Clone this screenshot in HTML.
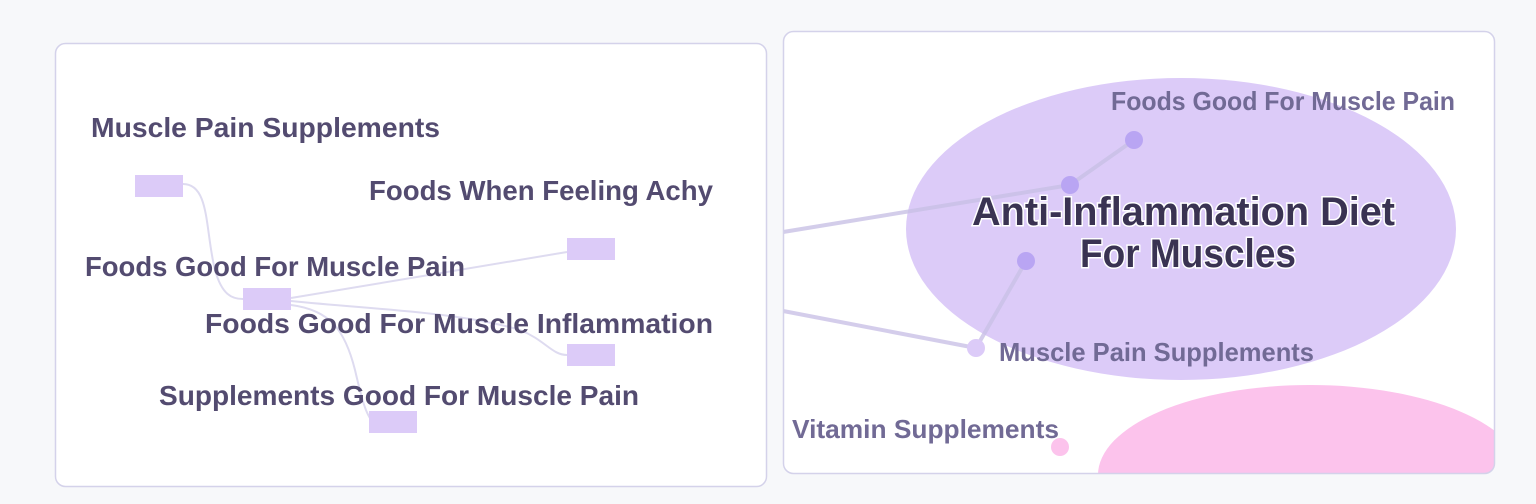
<!DOCTYPE html>
<html><head><style>
html,body{margin:0;padding:0;background:#f7f8fa;width:1536px;height:504px;overflow:hidden;}
svg{display:block;}
text{font-family:"Liberation Sans",sans-serif;font-weight:bold;}
</style></head><body>
<svg width="1536" height="504" viewBox="0 0 1536 504" xmlns="http://www.w3.org/2000/svg">
<rect x="0" y="0" width="1536" height="504" rx="24" fill="#f7f8fa"/>
<rect x="55.5" y="43.5" width="711" height="443" rx="10" fill="#fff" stroke="#d4d2ea" stroke-width="1.5"/>
<g fill="none" stroke="#dedbf0" stroke-width="2">
<path d="M183,184 C210,184 205,230 215,270 C222,295 232,299 243,299"/>
<path d="M291,298 L567,252"/>
<path d="M291,301 C380,310 460,312 520,330 C545,340 552,355 567,355"/>
<path d="M291,305 C330,310 345,330 355,370 C362,400 366,415 373,422"/>
</g>
<g fill="#dccbf8">
<rect x="135" y="175" width="48" height="22"/>
<rect x="567" y="238" width="48" height="22"/>
<rect x="243" y="288" width="48" height="22"/>
<rect x="567" y="344" width="48" height="22"/>
<rect x="369" y="411" width="48" height="22"/>
</g>
<g fill="#534b70" font-size="28">
<text x="91" y="137" textLength="349" lengthAdjust="spacingAndGlyphs">Muscle Pain Supplements</text>
<text x="369" y="200" textLength="344" lengthAdjust="spacingAndGlyphs">Foods When Feeling Achy</text>
<text x="85" y="276" textLength="380" lengthAdjust="spacingAndGlyphs">Foods Good For Muscle Pain</text>
<text x="205" y="333" textLength="508" lengthAdjust="spacingAndGlyphs">Foods Good For Muscle Inflammation</text>
<text x="159" y="405" textLength="480" lengthAdjust="spacingAndGlyphs">Supplements Good For Muscle Pain</text>
</g>
<defs><clipPath id="c"><rect x="783.5" y="31.5" width="711" height="442" rx="10"/></clipPath></defs>
<rect x="783.5" y="31.5" width="711" height="442" rx="10" fill="#fff"/>
<g clip-path="url(#c)">
<ellipse cx="1181" cy="229" rx="275" ry="151" fill="#dccbf8"/>
<ellipse cx="1310" cy="475" rx="212" ry="90" fill="#fcc3ec"/>
<g stroke="#c9c1e6" stroke-width="4" fill="none" opacity="0.8">
<path d="M783,232 L1070,185 L1134,140"/>
<path d="M783,311 L976,348 L1026,261"/>
</g>
<circle cx="1134" cy="140" r="9" fill="#b9a5f3"/>
<circle cx="1070" cy="185" r="9" fill="#b9a5f3"/>
<circle cx="1026" cy="261" r="9" fill="#b9a5f3"/>
<circle cx="976" cy="348" r="9" fill="#dccbf8"/>
<circle cx="1060" cy="447" r="9" fill="#fcc3ec"/>
<g fill="#716a95" font-size="26">
<text x="1111" y="110" textLength="344" lengthAdjust="spacingAndGlyphs">Foods Good For Muscle Pain</text>
<text x="999" y="361" textLength="315" lengthAdjust="spacingAndGlyphs">Muscle Pain Supplements</text>
<text x="792" y="438" textLength="267" lengthAdjust="spacingAndGlyphs">Vitamin Supplements</text>
</g>
<g fill="#3a3352" font-size="40" stroke="#fff" stroke-width="3" paint-order="stroke">
<text x="972" y="225" textLength="423" lengthAdjust="spacingAndGlyphs">Anti-Inflammation Diet</text>
<text x="1080" y="267" textLength="216" lengthAdjust="spacingAndGlyphs">For Muscles</text>
</g>
</g>
<rect x="783.5" y="31.5" width="711" height="442" rx="10" fill="none" stroke="#d4d2ea" stroke-width="1.5"/>
</svg>
</body></html>
